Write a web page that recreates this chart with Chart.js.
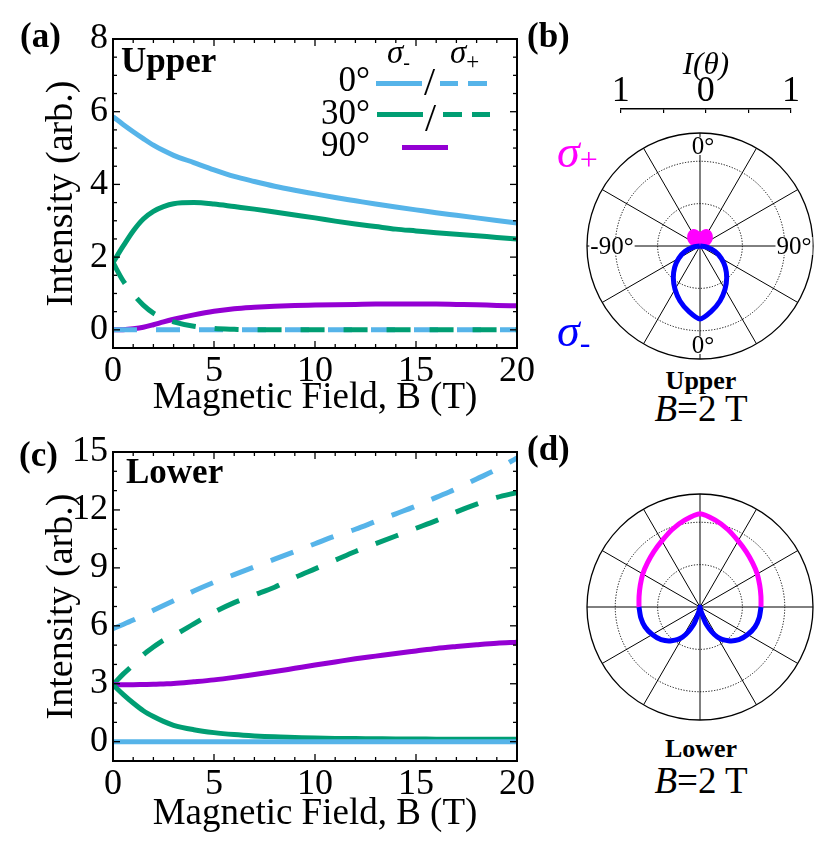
<!DOCTYPE html>
<html>
<head>
<meta charset="utf-8">
<script src="https://cdn.jsdelivr.net/npm/chart.js@4.4.0/dist/chart.umd.min.js"></script>
<style>
body { margin: 0; background: #fff; }
#fig { position: relative; width: 822px; height: 841px; font-family: "Liberation Serif", "Times New Roman", serif; color: #000; }
#fig canvas { position: absolute; }
.t { position: absolute; line-height: 1; white-space: nowrap; }
.b { font-weight: bold; }
.i { font-style: italic; }
.ln { position: absolute; height: 5px; }
.mid { width: 200px; text-align: center; left: 601px; }
</style>
</head>
<body>
<div id="fig">
	<canvas id="upperChart" width="540" height="420" style="left:0;top:0"></canvas>
	<canvas id="lowerChart" width="540" height="421" style="left:0;top:420px"></canvas>
	<canvas id="intensityAxis" width="212" height="70" style="left:600px;top:45px"></canvas>
	<canvas id="upperPolar" width="236" height="236" style="left:582px;top:128px"></canvas>
	<canvas id="lowerPolar" width="236" height="236" style="left:582px;top:489px"></canvas>

	<!-- panel letters -->
	<div class="t b" style="left:20px;top:18px;font-size:35px">(a)</div>
	<div class="t b" style="left:527px;top:18px;font-size:35px">(b)</div>
	<div class="t b" style="left:19px;top:437px;font-size:35px">(c)</div>
	<div class="t b" style="left:527px;top:431px;font-size:35px">(d)</div>

	<div class="t b" style="left:121px;top:43px;font-size:35px">Upper</div>
	<div class="t b" style="left:126px;top:454px;font-size:35px">Lower</div>

	<!-- legend of (a) -->
	<div class="t i" style="left:387px;top:36px;font-size:33px">σ<span style="font-style:normal;font-size:20px;position:relative;top:6px">-</span></div>
	<div class="t i" style="left:450px;top:36px;font-size:33px">σ<span style="font-style:normal;font-size:23px;position:relative;top:6px">+</span></div>
	<div class="t" style="right:452px;top:62px;font-size:35px">0°</div>
	<div class="t" style="right:452px;top:95px;font-size:35px">30°</div>
	<div class="t" style="right:452px;top:127px;font-size:35px">90°</div>
	<div class="t" style="left:424px;top:62px;font-size:40px">/</div>
	<div class="t" style="left:425px;top:98px;font-size:40px">/</div>
	<div class="ln" style="left:376px;top:81px;width:46px;background:#56B4E9"></div>
	<div class="ln" style="left:440px;top:81px;width:18px;background:#56B4E9"></div>
	<div class="ln" style="left:468px;top:81px;width:19px;background:#56B4E9"></div>
	<div class="ln" style="left:377px;top:112px;width:46px;background:#009E73"></div>
	<div class="ln" style="left:443px;top:112px;width:19px;background:#009E73"></div>
	<div class="ln" style="left:472px;top:112px;width:18px;background:#009E73"></div>
	<div class="ln" style="left:402px;top:145px;width:46px;background:#9400D3"></div>

	<!-- polar annotations -->
	<div class="t i" style="left:557px;top:129px;font-size:46px;color:#ff00ff">σ<span style="font-style:normal;font-size:32px;position:relative;top:3px">+</span></div>
	<div class="t i" style="left:557px;top:308px;font-size:46px;color:#0000ff">σ<span style="font-style:normal;font-size:32px;position:relative;top:7px">-</span></div>
	<div class="t b mid" style="top:368px;font-size:26px">Upper</div>
	<div class="t mid" style="top:390px;font-size:37px"><i>B</i>=2 T</div>
	<div class="t b mid" style="top:736px;font-size:26px">Lower</div>
	<div class="t mid" style="top:762px;font-size:37px"><i>B</i>=2 T</div>
</div>

<script>
// magnetic field grid (T)
const fieldB = [0, 0.5, 1, 1.5, 2, 2.5, 3, 4, 5, 6, 7, 8, 9, 10, 11, 12, 13, 14, 15, 16, 17, 18, 19, 20];

// (a) upper state
const upper0Minus = [5.86, 5.65, 5.45, 5.26, 5.08, 4.93, 4.8, 4.6, 4.4, 4.22, 4.08, 3.95, 3.84, 3.74, 3.64, 3.55, 3.46, 3.38, 3.3, 3.22, 3.15, 3.08, 3.01, 2.94];
const upper0Plus = [0, 0, 0, 0, 0, 0, 0, 0, 0, 0, 0, 0, 0, 0, 0, 0, 0, 0, 0, 0, 0, 0, 0, 0];
const upper30Minus = [1.85, 2.3, 2.72, 3.05, 3.26, 3.39, 3.47, 3.5, 3.46, 3.39, 3.32, 3.24, 3.16, 3.08, 2.99, 2.91, 2.84, 2.77, 2.72, 2.67, 2.63, 2.59, 2.54, 2.5];
const upper30Plus = [1.85, 1.35, 0.98, 0.68, 0.46, 0.32, 0.22, 0.1, 0.04, 0.015, 0, 0, 0, 0, 0, 0, 0, 0, 0, 0, 0, 0, 0, 0];
const upper90 = [0, 0.005, 0.03, 0.07, 0.14, 0.22, 0.29, 0.41, 0.51, 0.58, 0.62, 0.65, 0.67, 0.68, 0.69, 0.7, 0.71, 0.71, 0.71, 0.71, 0.7, 0.69, 0.67, 0.66];

// (c) lower state
const lower0Minus = [0, 0, 0, 0, 0, 0, 0, 0, 0, 0, 0, 0, 0, 0, 0, 0, 0, 0, 0, 0, 0, 0, 0, 0];
const lower0Plus = [5.85, 6.07, 6.3, 6.55, 6.8, 7.05, 7.3, 7.8, 8.25, 8.65, 9.05, 9.45, 9.85, 10.25, 10.65, 11.0, 11.4, 11.8, 12.2, 12.65, 13.1, 13.6, 14.1, 14.7];
const lower30Minus = [2.95, 2.45, 2.0, 1.6, 1.3, 1.05, 0.85, 0.62, 0.47, 0.37, 0.3, 0.25, 0.22, 0.19, 0.17, 0.16, 0.15, 0.14, 0.14, 0.13, 0.13, 0.13, 0.12, 0.12];
const lower30Plus = [2.95, 3.5, 3.98, 4.5, 4.9, 5.25, 5.5, 6.1, 6.7, 7.2, 7.6, 8.0, 8.5, 8.95, 9.4, 9.85, 10.25, 10.65, 11.05, 11.45, 11.9, 12.3, 12.65, 12.9];
const lower90 = [2.95, 2.95, 2.95, 2.96, 2.97, 2.99, 3.01, 3.1, 3.2, 3.33, 3.48, 3.63, 3.8, 3.97, 4.13, 4.29, 4.43, 4.57, 4.7, 4.83, 4.93, 5.02, 5.1, 5.15];

// (b),(d) angular patterns at B = 2 T, angle in degrees from the field axis
const angles = [-90, -80, -70, -60, -50, -40, -30, -20, -10, 0, 10, 20, 30, 40, 50, 60, 70, 80, 90];
const upperPolarPlus = [0, 0.05, 0.09, 0.13, 0.16, 0.18, 0.19, 0.18, 0.15, 0.12, 0.15, 0.18, 0.19, 0.18, 0.16, 0.13, 0.09, 0.05, 0];
const upperPolarMinus = [0, 0.09, 0.19, 0.29, 0.39, 0.49, 0.59, 0.69, 0.78, 0.86, 0.78, 0.69, 0.59, 0.49, 0.39, 0.29, 0.19, 0.09, 0];
const lowerPolarPlus = [0.72, 0.73, 0.75, 0.78, 0.81, 0.85, 0.9, 0.97, 1.04, 1.1, 1.04, 0.97, 0.9, 0.85, 0.81, 0.78, 0.75, 0.73, 0.72];
const lowerPolarMinus = [0.72, 0.71, 0.69, 0.65, 0.6, 0.52, 0.41, 0.22, 0.03, 0, 0.03, 0.22, 0.41, 0.52, 0.6, 0.65, 0.69, 0.71, 0.72];

const polarRings = [0.5, 1];
const polarOuter = 4 / 3;

const skyBlue = "#56B4E9";
const green = "#009E73";
const purple = "#9400D3";
const serif = "Liberation Serif";

Chart.defaults.font.family = serif;
Chart.defaults.color = "#000";

function toPoints(xs, ys) {
	return xs.map((x, i) => ({ x: x, y: ys[i] }));
}

/*polar values -> cartesian, sigma+ drawn upward and sigma- downward*/
function polarPoints(radii, up) {
	return angles.map((a, i) => {
		const t = (a * Math.PI) / 180;
		return { x: radii[i] * Math.sin(t), y: (up ? 1 : -1) * radii[i] * Math.cos(t) };
	});
}

/*frame with inward ticks on all four sides*/
const frameTicks = {
	id: "frameTicks",
	afterDatasetsDraw(chart, args, opts) {
		const { ctx, chartArea: a, scales } = chart;
		const x = scales.x, y = scales.y;
		ctx.save();
		ctx.strokeStyle = "#000";
		ctx.lineWidth = 1.3;
		const seg = (x1, y1, x2, y2) => {
			ctx.beginPath();
			ctx.moveTo(x1, y1);
			ctx.lineTo(x2, y2);
			ctx.stroke();
		};
		for (let v = 0; v <= x.max + 1e-9; v += opts.xMinor) {
			const px = x.getPixelForValue(v);
			const len = Math.abs(v / opts.xMajor - Math.round(v / opts.xMajor)) < 1e-6 ? 7 : 4;
			seg(px, a.bottom, px, a.bottom - len);
			seg(px, a.top, px, a.top + len);
		}
		for (let v = Math.ceil(y.min / opts.yMinor) * opts.yMinor; v <= y.max + 1e-9; v += opts.yMinor) {
			const py = y.getPixelForValue(v);
			const len = Math.abs(v / opts.yMajor - Math.round(v / opts.yMajor)) < 1e-6 ? 7 : 4;
			seg(a.left, py, a.left + len, py);
			seg(a.right, py, a.right - len, py);
		}
		ctx.lineWidth = 2;
		ctx.strokeRect(a.left, a.top, a.width, a.height);
		ctx.restore();
	}
};

/*circular grid, spokes every 30 degrees and angle labels*/
const polarGrid = {
	id: "polarGrid",
	beforeDatasetsDraw(chart, args, opts) {
		const { ctx, scales } = chart;
		const cx = scales.x.getPixelForValue(0);
		const cy = scales.y.getPixelForValue(0);
		const unit = scales.x.getPixelForValue(1) - cx;
		const R = polarOuter * unit;
		ctx.save();
		ctx.strokeStyle = "#000";
		ctx.lineWidth = 1;
		ctx.setLineDash([1.2, 1.6]);
		polarRings.forEach(r => {
			ctx.beginPath();
			ctx.arc(cx, cy, r * unit, 0, 2 * Math.PI);
			ctx.stroke();
		});
		ctx.setLineDash([]);
		for (let d = 0; d < 360; d += 30) {
			const t = (d * Math.PI) / 180;
			ctx.beginPath();
			ctx.moveTo(cx, cy);
			ctx.lineTo(cx + R * Math.sin(t), cy - R * Math.cos(t));
			ctx.stroke();
		}
		ctx.lineWidth = 1.3;
		ctx.beginPath();
		ctx.arc(cx, cy, R, 0, 2 * Math.PI);
		ctx.stroke();
		if (opts.labels) {
			ctx.font = `25px "${serif}"`;
			ctx.textAlign = "center";
			ctx.textBaseline = "middle";
			const marks = [
				["0°", 3, -100],
				["0°", 3, 99],
				["-90°", -88, 0],
				["90°", 94, 0]
			];
			marks.forEach(([txt, dx, dy]) => {
				const w = ctx.measureText(txt).width;
				ctx.fillStyle = "#fff";
				ctx.fillRect(cx + dx - w / 2 - 1, cy + dy - 9, w + 2, 18);
				ctx.fillStyle = "#000";
				ctx.fillText(txt, cx + dx, cy + dy + 1);
			});
		}
		ctx.restore();
	}
};

function fieldLine(ys, color, dashed) {
	return {
		data: toPoints(fieldB, ys),
		showLine: true,
		borderColor: color,
		borderWidth: 5,
		borderDash: dashed ? [24, 19] : [],
		pointRadius: 0,
		cubicInterpolationMode: "monotone"
	};
}

function fieldChart(id, datasets, yMin, yMax, yStep, yMinor, padTop, xHeight, titlePad) {
	return new Chart(document.getElementById(id), {
		type: "scatter",
		data: { datasets: datasets },
		options: {
			responsive: false,
			animation: false,
			events: [],
			layout: { padding: { top: padTop, right: 23, left: 0, bottom: 0 } },
			plugins: {
				legend: { display: false },
				tooltip: { enabled: false },
				frameTicks: { xMinor: 1, xMajor: 5, yMinor: yMinor, yMajor: yStep }
			},
			scales: {
				x: {
					type: "linear",
					min: 0,
					max: 20,
					grid: { display: false, drawTicks: false },
					border: { display: false },
					ticks: { stepSize: 5, font: { size: 36 }, padding: 2, maxRotation: 0 },
					title: {
						display: true,
						text: "Magnetic Field, B (T)",
						font: { size: 37, lineHeight: 1 },
						padding: { top: 0, bottom: titlePad }
					},
					afterFit(scale) {
						scale.height = xHeight;
					}
				},
				y: {
					type: "linear",
					min: yMin,
					max: yMax,
					grid: { display: false, drawTicks: false },
					border: { display: false },
					ticks: { stepSize: yStep, includeBounds: false, font: { size: 36 }, padding: 5 },
					title: {
						display: true,
						text: "Intensity (arb.)",
						font: { size: 38, lineHeight: 1 },
						padding: { top: 43, bottom: 0 }
					},
					afterFit(scale) {
						scale.width = 113;
					}
				}
			}
		},
		plugins: [frameTicks]
	});
}

fieldChart(
	"upperChart",
	[
		fieldLine(upper30Plus, green, true),
		fieldLine(upper0Plus, skyBlue, true),
		fieldLine(upper90, purple, false),
		fieldLine(upper30Minus, green, false),
		fieldLine(upper0Minus, skyBlue, false)
	],
	-0.5, 8, 2, 0.5, 39, 72, 3
);

fieldChart(
	"lowerChart",
	[
		fieldLine(lower0Minus, skyBlue, false),
		fieldLine(lower30Minus, green, false),
		fieldLine(lower90, purple, false),
		fieldLine(lower30Plus, green, true),
		fieldLine(lower0Plus, skyBlue, true)
	],
	-1, 15, 3, 1, 32, 80, 8
);

/*I(theta) scale bar above panel (b)*/
new Chart(document.getElementById("intensityAxis"), {
	type: "scatter",
	data: { datasets: [] },
	options: {
		responsive: false,
		animation: false,
		events: [],
		layout: { padding: { left: 20.7, right: 21, top: 0, bottom: 2 } },
		plugins: { legend: { display: false }, tooltip: { enabled: false } },
		scales: {
			x: {
				type: "linear",
				position: "top",
				min: -1,
				max: 1,
				grid: { display: true, drawOnChartArea: true, drawTicks: false, color: "#000", lineWidth: 1.2 },
				border: { display: true, color: "#000", width: 1.5 },
				ticks: {
					stepSize: 0.5,
					font: { size: 36, lineHeight: 1 },
					padding: -1,
					maxRotation: 0,
					callback: v => (Number.isInteger(v) ? String(Math.abs(v)) : "")
				},
				title: {
					display: true,
					text: "I(θ)",
					font: { size: 31, style: "italic", lineHeight: 1 },
					padding: { top: 5, bottom: 0 }
				},
				afterFit(scale) {
					scale.height = 64;
				}
			},
			y: { display: false, min: 0, max: 1 }
		}
	}
});

function polarChart(id, plus, minus, labels, fillPlus) {
	return new Chart(document.getElementById(id), {
		type: "scatter",
		data: {
			datasets: [
				{
					data: polarPoints(minus, false),
					showLine: true,
					borderColor: "#0000ff",
					borderWidth: 5,
					pointRadius: 0,
					tension: 0.25
				},
				{
					data: polarPoints(plus, true),
					showLine: true,
					borderColor: "#ff00ff",
					backgroundColor: "#ff00ff",
					fill: fillPlus ? "shape" : false,
					borderWidth: 5,
					pointRadius: 0,
					tension: 0.25
				}
			]
		},
		options: {
			responsive: false,
			animation: false,
			events: [],
			layout: { padding: 5 },
			plugins: {
				legend: { display: false },
				tooltip: { enabled: false },
				polarGrid: { labels: labels }
			},
			scales: {
				x: { display: false, min: -polarOuter, max: polarOuter },
				y: { display: false, min: -polarOuter, max: polarOuter }
			}
		},
		plugins: [polarGrid]
	});
}

polarChart("upperPolar", upperPolarPlus, upperPolarMinus, true, true);
polarChart("lowerPolar", lowerPolarPlus, lowerPolarMinus, false, false);
</script>
</body>
</html>
